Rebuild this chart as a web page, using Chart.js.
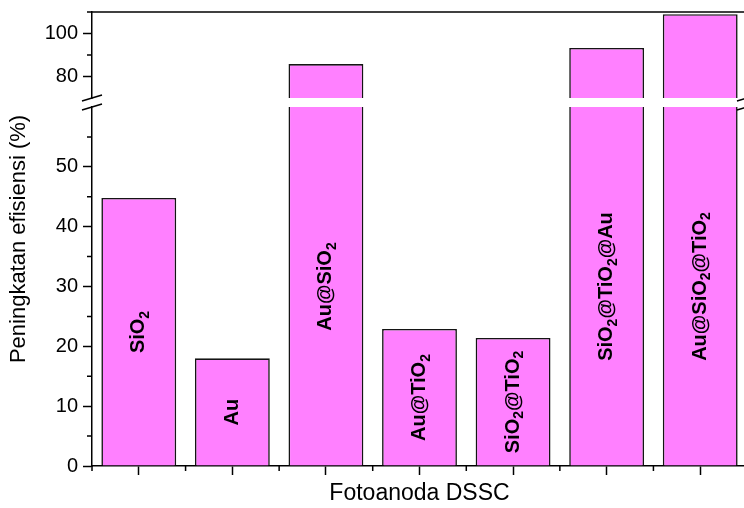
<!DOCTYPE html>
<html>
<head>
<meta charset="utf-8">
<script src="https://cdn.jsdelivr.net/npm/chart.js@4/dist/chart.umd.min.js"></script>
<style>
  html, body { margin: 0; padding: 0; background: #fff; overflow: hidden; }
  #wrap { width: 744px; height: 508px; overflow: hidden; position: relative; }
  canvas { display: block; }
</style>
</head>
<body>
<div id="wrap"><canvas id="c" width="752" height="508"></canvas></div>
<script>
// Photoanode samples ("_" marks a subscript) and their efficiency gain (%)
const categories = ['SiO_2', 'Au', 'Au@SiO_2', 'Au@TiO_2', 'SiO_2@TiO_2', 'SiO_2@TiO_2@Au', 'Au@SiO_2@TiO_2'];
const efficiencyGain = [44.8, 18.0, 85.8, 22.9, 21.4, 93.3, 109.0];

// Broken value axis: lower and upper segments
const lowerRange = [0, 60];
const upperRange = [70, 110];
const lowerMajorTicks = [0, 10, 20, 30, 40, 50];
const lowerMinorTicks = [5, 15, 25, 35, 45, 55];
const upperMajorTicks = [80, 100];
const upperMinorTicks = [90, 110];

const FONT = '"Liberation Sans", Arial, Helvetica, sans-serif';
const INK = '#000';
const AXIS_W = 1.5;
const MAJOR_LEN = 9;
const MINOR_LEN = 5;

const barStyle = {
  backgroundColor: '#FF80FF',
  borderColor: '#141414',
  borderWidth: 1.6,
  borderSkipped: 'start',
  grouped: false,
  categoryPercentage: 0.8,
  barPercentage: 1.0
};

// Keep each dataset inside its own axis segment
const segmentClip = {
  id: 'segmentClip',
  beforeDatasetDraw(chart, args) {
    const ys = chart.scales[args.meta.yAxisID];
    const a = chart.chartArea;
    const c = chart.ctx;
    c.save();
    c.beginPath();
    c.rect(a.left - 2, ys.top, a.right - a.left + 4, ys.bottom - ys.top);
    c.clip();
  },
  afterDatasetDraw(chart) {
    chart.ctx.restore();
  }
};

function drawRichRotated(c, text, cx, cy, size) {
  // split "SiO_2@TiO_2" into normal/subscript runs
  const runs = [];
  for (let i = 0; i < text.length; i++) {
    if (text[i] === '_' && i + 1 < text.length) {
      runs.push({ t: text[i + 1], sub: true });
      i++;
    } else {
      if (runs.length && !runs[runs.length - 1].sub) runs[runs.length - 1].t += text[i];
      else runs.push({ t: text[i], sub: false });
    }
  }
  const mainFont = 'bold ' + size + 'px ' + FONT;
  const subFont = 'bold ' + Math.round(size * 0.7) + 'px ' + FONT;
  let total = 0;
  runs.forEach(r => {
    c.font = r.sub ? subFont : mainFont;
    r.w = c.measureText(r.t).width;
    total += r.w;
  });
  c.save();
  c.translate(cx, cy);
  c.rotate(-Math.PI / 2);
  c.fillStyle = INK;
  c.textBaseline = 'middle';
  c.textAlign = 'left';
  let x = -total / 2;
  runs.forEach(r => {
    c.font = r.sub ? subFont : mainFont;
    c.fillText(r.t, x, r.sub ? size * 0.32 : 0);
    x += r.w;
  });
  c.restore();
}

const decorations = {
  id: 'decorations',
  afterDraw(chart) {
    const c = chart.ctx;
    const a = chart.chartArea;
    const x = chart.scales.x;
    const lo = chart.scales.yLow;
    const hi = chart.scales.yHigh;
    c.save();
    c.strokeStyle = INK;
    c.lineWidth = AXIS_W;

    // top frame line
    c.beginPath();
    c.moveTo(a.left, a.top);
    c.lineTo(a.right, a.top);
    c.stroke();

    // minor ticks on the value axis
    c.beginPath();
    lowerMinorTicks.forEach(v => {
      const y = lo.getPixelForValue(v);
      c.moveTo(a.left - MINOR_LEN, y);
      c.lineTo(a.left, y);
    });
    upperMinorTicks.forEach(v => {
      const y = hi.getPixelForValue(v);
      c.moveTo(a.left - MINOR_LEN, y);
      c.lineTo(a.left, y);
    });
    // minor ticks between categories
    const n = categories.length;
    for (let i = 0; i <= n; i++) {
      let px;
      if (i === 0) px = a.left;
      else if (i === n) px = a.right;
      else px = (x.getPixelForValue(i - 1) + x.getPixelForValue(i)) / 2;
      c.moveTo(px, a.bottom);
      c.lineTo(px, a.bottom + MINOR_LEN);
    }
    c.stroke();

    // axis break marks on both sides
    const yA = hi.bottom;
    const yB = lo.top;
    [a.left, a.right].forEach(bx => {
      c.beginPath();
      [yA, yB].forEach(by => {
        c.moveTo(bx - 10, by + 3);
        c.lineTo(bx + 10, by - 3);
      });
      c.stroke();
    });

    // value axis title
    c.fillStyle = INK;
    c.font = '22px ' + FONT;
    c.textAlign = 'center';
    c.textBaseline = 'middle';
    c.translate(19, (a.top + a.bottom) / 2);
    c.rotate(-Math.PI / 2);
    c.fillText('Peningkatan efisiensi (%)', 0, 0);
    c.restore();

    // sample names, centred on the visible lower part of each bar
    categories.forEach((name, i) => {
      const mid = Math.min(efficiencyGain[i], lowerRange[1]) / 2;
      drawRichRotated(c, name, x.getPixelForValue(i), lo.getPixelForValue(mid), 20);
    });
  }
};

const showOnly = list => ctx => (ctx.tick && list.includes(ctx.tick.value)) ? INK : 'rgba(0,0,0,0)';

// fixed axis box: no extra room reserved for half-height edge labels
function fixedValueAxis(s) {
  s.width = 92;
  s.paddingTop = 0;
  s.paddingBottom = 0;
}

new Chart(document.getElementById('c').getContext('2d'), {
  type: 'bar',
  data: {
    labels: categories,
    datasets: [
      Object.assign({ data: efficiencyGain, yAxisID: 'yLow' }, barStyle),
      Object.assign({ data: efficiencyGain, yAxisID: 'yHigh' }, barStyle)
    ]
  },
  options: {
    responsive: false,
    animation: false,
    devicePixelRatio: 1,
    layout: { padding: { top: 12, right: 5, left: 0, bottom: 0 } },
    plugins: { legend: { display: false }, tooltip: { enabled: false } },
    scales: {
      x: {
        offset: true,
        grid: { display: true, drawOnChartArea: false, offset: false, tickLength: MAJOR_LEN, color: INK, tickWidth: AXIS_W },
        border: { display: true, color: INK, width: AXIS_W },
        ticks: { display: false },
        title: { display: true, text: 'Fotoanoda DSSC', color: INK, font: { family: FONT, size: 23 }, padding: { top: 0, bottom: 1 } },
        afterFit(s) { s.height = 42; s.paddingLeft = 0; s.paddingRight = 0; }
      },
      yLow: {
        type: 'linear', position: 'left', stack: 'value', stackWeight: 359,
        min: lowerRange[0], max: lowerRange[1],
        ticks: { stepSize: 10, autoSkip: false, color: INK, font: { family: FONT, size: 20 }, padding: 5,
          callback: v => lowerMajorTicks.includes(v) ? String(v) : '' },
        grid: { drawOnChartArea: false, tickLength: MAJOR_LEN, tickWidth: AXIS_W, tickColor: showOnly(lowerMajorTicks) },
        border: { display: true, color: INK, width: AXIS_W },
        afterFit: fixedValueAxis
      },
      yGap: {
        type: 'linear', position: 'left', stack: 'value', stackWeight: 9,
        ticks: { display: false }, grid: { display: false }, border: { display: false },
        afterFit: fixedValueAxis
      },
      yHigh: {
        type: 'linear', position: 'left', stack: 'value', stackWeight: 86,
        min: upperRange[0], max: upperRange[1],
        ticks: { stepSize: 10, autoSkip: false, color: INK, font: { family: FONT, size: 20 }, padding: 5,
          callback: v => upperMajorTicks.includes(v) ? String(v) : '' },
        grid: { drawOnChartArea: false, tickLength: MAJOR_LEN, tickWidth: AXIS_W, tickColor: showOnly(upperMajorTicks) },
        border: { display: true, color: INK, width: AXIS_W },
        afterFit: fixedValueAxis
      }
    }
  },
  plugins: [segmentClip, decorations]
});
</script>
</body>
</html>
